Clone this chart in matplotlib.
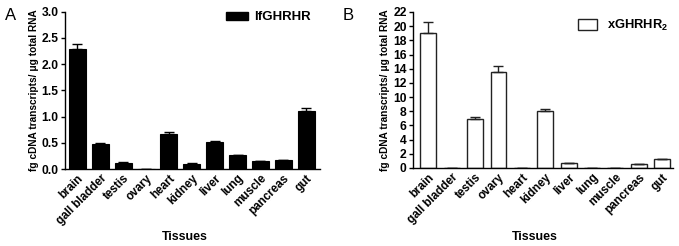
import matplotlib
matplotlib.use("Agg")
import matplotlib.pyplot as plt
from matplotlib.patches import Patch
import numpy as np

plt.rcParams['font.family'] = ['Liberation Sans', 'DejaVu Sans']
plt.rcParams['mathtext.fontset'] = 'custom'
plt.rcParams['mathtext.bf'] = 'Liberation Sans:bold'
plt.rcParams['mathtext.rm'] = 'Liberation Sans'

tissues = ["brain", "gall bladder", "testis", "ovary", "heart", "kidney",
           "liver", "lung", "muscle", "pancreas", "gut"]

a_values = [2.29, 0.47, 0.12, 0.0, 0.67, 0.10, 0.52, 0.26, 0.15, 0.17, 1.11]
a_errors = [0.09, 0.03, 0.01, 0.0, 0.03, 0.01, 0.02, 0.015, 0.01, 0.01, 0.05]

b_values = [19.1, 0.05, 6.95, 13.6, 0.02, 8.05, 0.65, 0.05, 0.0, 0.55, 1.2]
b_errors = [1.55, 0.0, 0.3, 0.8, 0.0, 0.25, 0.0, 0.0, 0.0, 0.0, 0.05]

a_yticks = [0.0, 0.5, 1.0, 1.5, 2.0, 2.5, 3.0]
b_yticks = list(range(0, 23, 2))

W, H = 679, 246
fig = plt.figure(figsize=(W / 100, H / 100), dpi=100)

def px_axes(left, right, top, bottom):
    return fig.add_axes([left / W, 1 - bottom / H, (right - left) / W, (bottom - top) / H])

axA = px_axes(65, 320, 11.7, 169)
axB = px_axes(413, 673, 12, 168)

ylabel = "fg cDNA transcripts/ μg total RNA"
fs_tick = 8.7
fs_cat = 8.4

def style(ax, yticks, fmt):
    for s in ["top", "right"]:
        ax.spines[s].set_visible(False)
    for s in ["left", "bottom"]:
        ax.spines[s].set_linewidth(1.0)
    ax.set_yticks(yticks)
    ax.set_yticklabels([fmt(v) for v in yticks], fontsize=fs_tick, fontweight='bold')
    ax.set_ylim(yticks[0], yticks[-1])
    x = np.arange(len(tissues))
    ax.set_xticks(x)
    ax.set_xticklabels(tissues, rotation=45, ha='right', rotation_mode='anchor',
                       fontsize=fs_cat, fontweight='bold')
    ax.tick_params(axis='x', length=0, pad=2.5)
    ax.tick_params(axis='y', length=3, width=1, pad=1.5)
    ax.set_ylabel(ylabel, fontsize=7.3, fontweight='bold', labelpad=2)

x = np.arange(len(tissues))
axA.bar(x, a_values, width=0.74, color='black', edgecolor='black', linewidth=0.8,
        yerr=[np.zeros(len(a_errors)), a_errors], capsize=3.5,
        error_kw=dict(ecolor='black', elinewidth=1, capthick=1))
style(axA, a_yticks, lambda v: f"{v:.1f}")
axA.set_xlim(-0.54, 10.6)

axB.bar(x, b_values, width=0.68, color='white', edgecolor='#222222', linewidth=1.0,
        yerr=[np.zeros(len(b_errors)), b_errors], capsize=3.5,
        error_kw=dict(ecolor='#222222', elinewidth=1, capthick=1))
style(axB, b_yticks, lambda v: f"{v:d}")
axB.set_xlim(-0.66, 10.47)

legA = axA.legend(handles=[Patch(facecolor='black', edgecolor='black', label='lfGHRHR')],
                  loc='upper right', bbox_to_anchor=(1.0, 1.06), frameon=False,
                  prop=dict(weight='bold', size=9.5), handlelength=1.6, handleheight=0.6,
                  handletextpad=0.5, borderaxespad=0.3)
legB = axB.legend(handles=[Patch(facecolor='white', edgecolor='#222222', label=r'xGHRHR$_\mathbf{2}$')],
                  loc='upper right', bbox_to_anchor=(1.015, 1.02), frameon=False,
                  prop=dict(weight='bold', size=9.3), handlelength=1.5, handleheight=0.85,
                  handletextpad=0.75, borderaxespad=0.3)

fig.text(185 / W, 1 - 237 / H, "Tissues", fontsize=8.9, fontweight='bold', ha='center', va='center')
fig.text(535 / W, 1 - 237 / H, "Tissues", fontsize=8.9, fontweight='bold', ha='center', va='center')

fig.text(5 / W, 1 - 16 / H, "A", fontsize=12, va='center', ha='left')
fig.text(343 / W, 1 - 16 / H, "B", fontsize=12, va='center', ha='left')

fig.savefig("out.png", dpi=100)
